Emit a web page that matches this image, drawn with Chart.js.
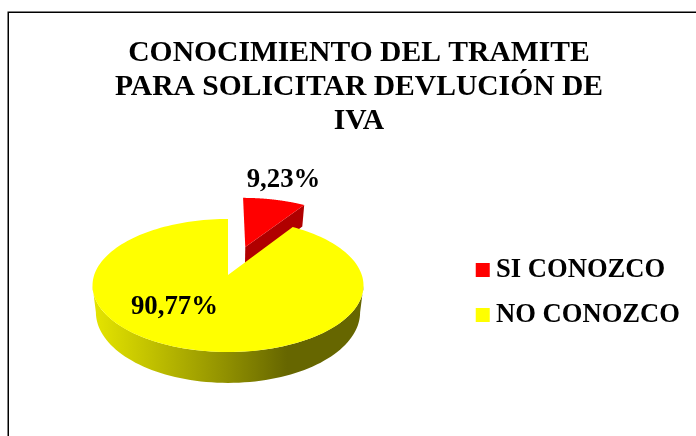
<!DOCTYPE html>
<html><head><meta charset="utf-8">
<style>html,body{margin:0;padding:0;background:#fff;overflow:hidden}#w{width:696px;height:436px}</style>
<script src="https://cdn.jsdelivr.net/npm/chart.js@4"></script>
</head><body><div id="w"><canvas id="c" width="696" height="436"></canvas></div>
<script>
const categories = ['SI CONOZCO', 'NO CONOZCO'];
const percentages = [9.23, 90.77];
const sliceColors = ['#ff0000', '#ffff00'];
const titleLines = ['CONOCIMIENTO DEL TRAMITE', 'PARA SOLICITAR DEVLUCIÓN DE', 'IVA'];
const explodeFractions = [0.485, 0];
const SERIF = '"Liberation Serif", serif';

// perspective disc: unit-disc (u, v up) -> screen
const view = {cx: 228, a: 275, b: -21.4, c: 0.158, R: 133.8, depth: 26, baseShrink: 0.975};
function project(u, v, down) {
  const w = 1 + view.c * v;
  const k = down ? view.baseShrink : 1;
  return [view.cx + k * view.R * u / w, (view.a + view.b * v) / w + (down ? view.depth / w : 0)];
}
function rimPoints(el, i, down) {
  const e = explodeFractions[i], mid = (el.startAngle + el.endAngle) / 2;
  const ox = e * Math.cos(mid), oy = -e * Math.sin(mid);
  return {
    at: t => project(ox + Math.cos(t), oy - Math.sin(t), down),
    apex: project(ox, oy, down)
  };
}
const pie3d = {
  id: 'pie3d',
  beforeDraw(chart) {
    const ctx = chart.ctx;
    ctx.save();
    ctx.strokeStyle = '#000';
    ctx.lineWidth = 1.5;
    ctx.strokeRect(8.25, 12.25, 760, 500);
    ctx.restore();
  },
  beforeDatasetDraw(chart) {
    const ctx = chart.ctx, arcs = chart.getDatasetMeta(0).data;
    const order = arcs.map((_, i) => i).sort((x, y) => explodeFractions[y] - explodeFractions[x]);
    order.forEach(i => {
      const el = arcs[i], top = rimPoints(el, i, false), bot = rimPoints(el, i, true);
      const s = el.startAngle, e = el.endAngle;
      if (explodeFractions[i] > 0) {
        ctx.fillStyle = '#b00000';
        ctx.beginPath();
        ctx.moveTo(...top.apex); ctx.lineTo(...top.at(e)); ctx.lineTo(...bot.at(e)); ctx.lineTo(...bot.apex);
        ctx.closePath(); ctx.fill();
      } else {
        const g = ctx.createLinearGradient(92, 0, 363, 0);
        g.addColorStop(0, '#e6e600'); g.addColorStop(0.2, '#c4c400');
        g.addColorStop(0.5, '#8f8f00'); g.addColorStop(0.72, '#666600'); g.addColorStop(1, '#666600');
        ctx.fillStyle = g;
        ctx.beginPath();
        const from = view.c, to = Math.PI - view.c;
        for (let n = 0; n <= 80; n++) { const t = from + (to - from) * n / 80; ctx.lineTo(...top.at(t)); }
        for (let n = 80; n >= 0; n--) { const t = from + (to - from) * n / 80; ctx.lineTo(...bot.at(t)); }
        ctx.closePath(); ctx.fill();
      }
      ctx.fillStyle = sliceColors[i];
      ctx.beginPath();
      ctx.moveTo(...top.apex);
      for (let n = 0; n <= 160; n++) ctx.lineTo(...top.at(s + (e - s) * n / 160));
      ctx.closePath(); ctx.fill();
    });
    return false;
  },
  afterDraw(chart) {
    const ctx = chart.ctx, arcs = chart.getDatasetMeta(0).data;
    ctx.save();
    ctx.fillStyle = '#000';
    ctx.font = 'bold 26.8px ' + SERIF;
    ctx.textAlign = 'center'; ctx.textBaseline = 'middle';
    const anchor = [[0.54, 1.9], [-0.371, -0.455]];
    arcs.forEach((el, i) => {
      const p = project(anchor[i][0], anchor[i][1], false);
      ctx.fillText(percentages[i].toFixed(2).replace('.', ',') + '%', p[0], p[1]);
    });
    ctx.restore();
  }
};
new Chart(document.getElementById('c'), {
  type: 'pie',
  data: {labels: categories, datasets: [{data: percentages, backgroundColor: sliceColors, borderWidth: 0}]},
  plugins: [pie3d],
  options: {
    responsive: false, animation: false,
    layout: {padding: {left: 28, right: 6, top: 0, bottom: 0}},
    plugins: {
      tooltip: {enabled: false},
      title: {display: true, text: titleLines, color: '#000', padding: {top: 36, bottom: 11},
        font: {family: SERIF, size: 29.6, weight: 'bold', lineHeight: 1.15}},
      legend: {position: 'right', align: 'center', fullSize: false,
        labels: {usePointStyle: true, pointStyle: 'rect', boxWidth: 0.01, boxHeight: 14, padding: 18.5, color: '#000',
          font: {family: SERIF, size: 26.6, weight: 'bold'}}}
    }
  }
});
</script></body></html>
